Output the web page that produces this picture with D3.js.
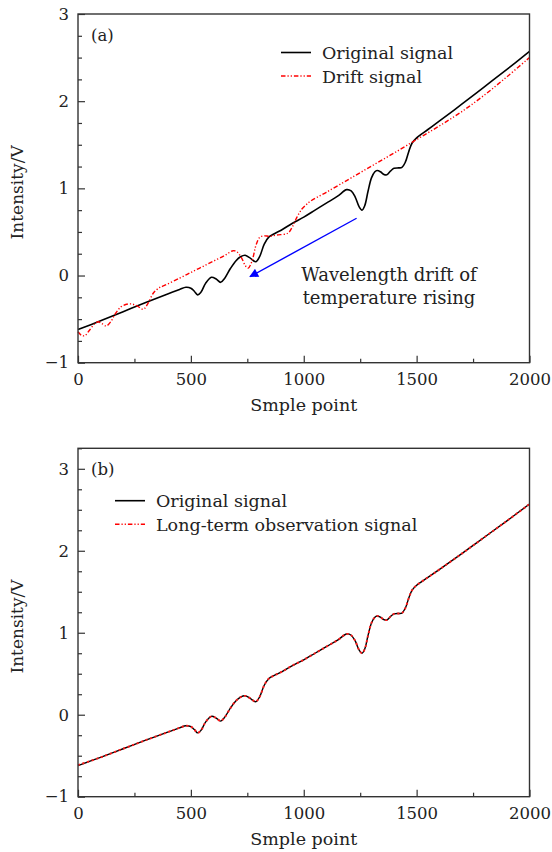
<!DOCTYPE html>
<html><head><meta charset="utf-8">
<script src="https://cdn.jsdelivr.net/npm/d3@7"></script>
<style>
body{margin:0;background:#fff;}
text{font-family:"DejaVu Serif",serif;fill:#222;}
</style></head>
<body><svg id="c" width="552" height="852"></svg>
<script>
// ---- data ----
const origX = [0,100,200,300,400,450,478,500,515,530,545,565,591,612,632,650,675,700,720,740,760,787,805,825,845,870,900,950,1000,1050,1100,1150,1190,1210,1228,1245,1258,1270,1285,1300,1315,1325,1340,1355,1368,1385,1400,1420,1435,1450,1465,1480,1500,1550,1600,1700,1800,1900,2000];
const origY = [-0.62,-0.52,-0.415,-0.31,-0.21,-0.16,-0.135,-0.145,-0.18,-0.222,-0.19,-0.09,-0.02,-0.04,-0.078,-0.03,0.08,0.17,0.215,0.232,0.205,0.158,0.22,0.36,0.44,0.48,0.52,0.6,0.67,0.75,0.83,0.91,0.985,0.97,0.9,0.79,0.75,0.8,0.97,1.12,1.19,1.205,1.19,1.16,1.155,1.2,1.23,1.235,1.24,1.3,1.42,1.52,1.58,1.675,1.77,1.965,2.165,2.365,2.57];
const driftX = [0,15,30,50,75,90,105,125,145,165,190,215,238,260,289,310,334,360,378,450,500,550,600,650,688,705,725,742,754,770,790,806,825,850,880,929,950,970,991,1010,1028,1100,1200,1300,1400,1500,1600,1700,1800,1900,2000];
const driftY = [-0.645,-0.685,-0.69,-0.63,-0.55,-0.53,-0.55,-0.578,-0.53,-0.44,-0.36,-0.33,-0.326,-0.345,-0.387,-0.32,-0.2,-0.14,-0.12,-0.03,0.035,0.1,0.165,0.23,0.285,0.27,0.2,0.11,0.085,0.16,0.36,0.44,0.455,0.45,0.465,0.485,0.56,0.67,0.76,0.81,0.85,0.955,1.105,1.255,1.405,1.56,1.715,1.88,2.07,2.28,2.5];
const obsX = origX.slice();
const obsY = [-0.615,-0.52,-0.415,-0.31,-0.21,-0.16,-0.135,-0.145,-0.18,-0.22,-0.19,-0.09,-0.02,-0.04,-0.077,-0.03,0.08,0.17,0.215,0.23,0.205,0.16,0.22,0.36,0.44,0.48,0.52,0.6,0.67,0.75,0.83,0.91,0.985,0.97,0.9,0.79,0.75,0.8,0.97,1.12,1.19,1.205,1.19,1.16,1.155,1.2,1.23,1.235,1.24,1.3,1.42,1.52,1.58,1.675,1.77,1.965,2.165,2.365,2.57];
const xTicks = [0,500,1000,1500,2000];
const xMinor = [250,750,1250,1750];
const yTicks = [-1,0,1,2,3];
const arrowFrom = [1234,0.657];
const arrowTo = [762,-0.013];

const svg = d3.select("#c");
const defs = svg.append("defs");
defs.append("marker").attr("id","ah").attr("viewBox","0 0 10 10").attr("refX",9).attr("refY",5)
  .attr("markerWidth",11).attr("markerHeight",9).attr("markerUnits","userSpaceOnUse").attr("orient","auto")
  .append("path").attr("d","M0,0L10,5L0,10Z").attr("fill","#0000ff");

const L = 78, R = 529.5;
const zip = (xs,ys)=>xs.map((x,i)=>[x,ys[i]]);
const dash = "4.5,2,1.2,2,1.2,2";

function panel(top, bottom, yDom, tag, series, legendItems, legPos){
  const x = d3.scaleLinear().domain([0,2000]).range([L,R]);
  const y = d3.scaleLinear().domain(yDom).range([bottom,top]);
  const g = svg.append("g");
  const line = d3.line().x(d=>x(d[0])).y(d=>y(d[1])).curve(d3.curveCatmullRom.alpha(0.5));
  series.forEach(s=>{
    g.append("path").attr("d",line(s.data)).attr("fill","none").attr("stroke",s.color)
      .attr("stroke-width",s.w).attr("stroke-dasharray",s.dash||null);
  });
  const yMinor = d3.range(yDom[0], yDom[1]+1e-9, 0.25).filter(v=>Math.abs(v-Math.round(v))>1e-6);
  g.append("g").attr("transform",`translate(${L},0)`).call(d3.axisLeft(y).tickValues(yMinor).tickSizeInner(-4).tickSizeOuter(0).tickFormat(""))
    .call(a=>a.select(".domain").remove()).selectAll("line").attr("stroke","#333").attr("stroke-width",1.2);
  g.append("g").attr("transform",`translate(0,${bottom})`).call(d3.axisBottom(x).tickValues(xMinor).tickSizeInner(-4).tickSizeOuter(0).tickFormat(""))
    .call(a=>a.select(".domain").remove()).selectAll("line").attr("stroke","#333").attr("stroke-width",1.2);
  const ya = g.append("g").attr("transform",`translate(${L},0)`).call(d3.axisLeft(y).tickValues(yTicks).tickSizeInner(-7).tickSizeOuter(0).tickPadding(9).tickFormat(d3.format("d")));
  const xa = g.append("g").attr("transform",`translate(0,${bottom})`).call(d3.axisBottom(x).tickValues(xTicks).tickSizeInner(-7).tickSizeOuter(0).tickPadding(10.5).tickFormat(d3.format("d")));
  [ya,xa].forEach(a=>{
    a.select(".domain").remove();
    a.selectAll("line").attr("stroke","#333").attr("stroke-width",1.2);
    a.selectAll("text").style("font-family","DejaVu Serif").style("font-size","16.5px").attr("fill","#222");
  });
  g.append("rect").attr("x",L).attr("y",top).attr("width",R-L).attr("height",bottom-top)
    .attr("fill","none").attr("stroke","#333").attr("stroke-width",1.4);
  g.append("text").attr("x",91).attr("y",top+27).style("font-size","16.5px").text(tag);
  legendItems.forEach((it,i)=>{
    const yy = legPos[1] + i*23.5;
    g.append("line").attr("x1",legPos[0]).attr("x2",legPos[0]+30).attr("y1",yy).attr("y2",yy)
      .attr("stroke",it.color).attr("stroke-width",it.w).attr("stroke-dasharray",it.dash||null);
    g.append("text").attr("x",legPos[0]+41).attr("y",yy+6.5).style("font-size","17.5px").text(it.label);
  });
  g.append("text").attr("transform",`translate(23,${(top+bottom)/2+4}) rotate(-90)`).attr("text-anchor","middle")
    .style("font-size","17px").text("Intensity/V");
  g.append("text").attr("x",(L+R)/2).attr("y",bottom+48).attr("text-anchor","middle")
    .style("font-size","17.5px").text("Smple point");
  return {x,y,g};
}

const pa = panel(14, 362.7, [-1,3], "(a)",
  [{data:zip(origX,origY),color:"#000",w:1.6},{data:zip(driftX,driftY),color:"#ff0000",w:1.4,dash:dash}],
  [{label:"Original signal",color:"#000",w:1.6},{label:"Drift signal",color:"#ff0000",w:1.4,dash:dash}],
  [281,52.5]);
pa.g.append("line").attr("x1",pa.x(arrowFrom[0])).attr("y1",pa.y(arrowFrom[1]))
  .attr("x2",pa.x(arrowTo[0])).attr("y2",pa.y(arrowTo[1])).attr("stroke","#0000ff").attr("stroke-width",1.4)
  .attr("marker-end","url(#ah)");
const ann = pa.g.append("text").attr("text-anchor","middle").style("font-size","18px");
ann.append("tspan").attr("x",389).attr("y",281).text("Wavelength drift of");
ann.append("tspan").attr("x",389).attr("y",304).text("temperature rising");

panel(448.3, 796.7, [-1,3.25], "(b)",
  [{data:zip(origX,origY),color:"#000",w:1.4},{data:zip(obsX,obsY),color:"#ff1a1a",w:1.9,dash:"2.2,2.6"}],
  [{label:"Original signal",color:"#000",w:1.6},{label:"Long-term observation signal",color:"#ff0000",w:1.4,dash:dash}],
  [115,500.7]);
</script></body></html>
